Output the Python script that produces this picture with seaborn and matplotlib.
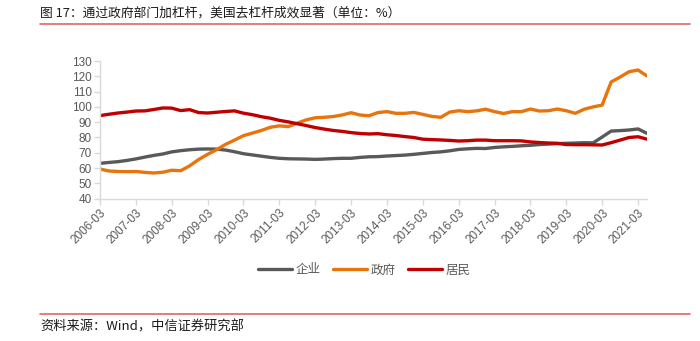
import numpy as np
import pandas as pd
import matplotlib
matplotlib.use("Agg")
import matplotlib.pyplot as plt
import seaborn as sns

# ---- data (quarterly, 2006-03 .. 2021-06) ----
quarters = [f"{y}-{m:02d}" for y in range(2006, 2022) for m in (3, 6, 9, 12)][:62]
tick_labels = [f"{y}-03" for y in range(2006, 2022)]

corp = [63.1, 63.7, 64.2, 65.0, 66.0, 67.2, 68.3, 69.2, 70.6, 71.4,
        72.0, 72.4, 72.5, 72.4, 71.8, 70.7, 69.4, 68.6, 67.8, 67.0,
        66.4, 66.1, 66.0, 65.9, 65.7, 65.9, 66.2, 66.4, 66.4, 67.0,
        67.4, 67.5, 67.9, 68.2, 68.5, 69.0, 69.6, 70.2, 70.6, 71.3,
        72.2, 72.6, 72.9, 72.8, 73.5, 73.9, 74.2, 74.6, 74.9, 75.4,
        75.7, 76.0, 76.2, 76.4, 76.6, 76.5, 80.3, 84.2, 84.5, 84.9,
        85.6, 82.7]
gov = [59.4, 58.1, 57.8, 57.7, 57.8, 57.2, 56.8, 57.3, 58.6, 58.3,
       61.5, 65.6, 69.0, 72.0, 75.5, 78.3, 81.2, 82.9, 84.6, 86.7,
       87.6, 87.1, 89.4, 91.5, 92.9, 93.2, 93.7, 94.7, 96.2, 94.7,
       94.2, 96.3, 96.9, 95.8, 95.8, 96.4, 95.1, 93.8, 93.2, 96.6,
       97.5, 96.9, 97.4, 98.5, 96.9, 95.7, 96.9, 96.9, 98.6, 97.3,
       97.5, 98.6, 97.5, 95.8, 98.5, 100.0, 101.2, 116.3, 119.5, 123.0,
       124.1, 120.2]
house = [94.3, 95.2, 96.0, 96.6, 97.3, 97.4, 98.3, 99.3, 99.2, 97.6,
         98.2, 96.3, 96.0, 96.5, 97.0, 97.4, 95.9, 94.9, 93.6, 92.6,
         91.2, 90.2, 89.0, 87.8, 86.5, 85.5, 84.6, 84.0, 83.2, 82.6,
         82.3, 82.5, 81.8, 81.3, 80.6, 80.0, 78.9, 78.6, 78.4, 78.1,
         77.7, 77.9, 78.3, 78.3, 77.9, 77.9, 77.9, 77.8, 77.1, 76.7,
         76.4, 76.2, 75.4, 75.3, 75.3, 75.2, 75.1, 76.6, 78.3, 80.0,
         80.5, 78.9]
series_names = ["企业", "政府", "居民"]
colors = ["#595959", "#E8740E", "#C00000"]

# ---- build long table ----
idx = np.arange(len(quarters))
df = pd.DataFrame({
    "i": np.concatenate([idx, idx, idx]),
    "value": corp + gov + house,
    "series": [series_names[0]] * len(corp) + [series_names[1]] * len(gov) + [series_names[2]] * len(house),
})

sns.set_style("white")
plt.rcParams["font.family"] = ["Liberation Sans", "Noto Sans CJK SC", "DejaVu Sans"]

fig = plt.figure(figsize=(7.0, 3.41), dpi=100)
ax = fig.add_axes([100 / 700, 1 - 198.7 / 341, 547 / 700, (198.7 - 61) / 341])

sns.lineplot(data=df, x="i", y="value", hue="series", hue_order=series_names,
             palette=colors, linewidth=2.4, ax=ax, legend=False)

ax.set_xlim(0, len(quarters) - 1)
ax.set_ylim(40, 130)
ax.set_yticks(range(40, 131, 10))
ax.set_xticks(range(0, len(quarters), 4))
ax.set_xticklabels(tick_labels, rotation=45, ha="right", rotation_mode="anchor",
                   fontsize=8.5, color="#595959")
for t in ax.get_yticklabels():
    t.set_fontsize(8.5)
    t.set_color("#595959")
ax.set_xlabel("")
ax.set_ylabel("")

for s in ["top", "right"]:
    ax.spines[s].set_visible(False)
for s in ["left", "bottom"]:
    ax.spines[s].set_color("#D9D9D9")
    ax.spines[s].set_linewidth(1.0)
ax.tick_params(axis="both", which="both", length=4, width=1, color="#D9D9D9",
               direction="out", pad=2)
ax.tick_params(axis="x", bottom=True)
ax.tick_params(axis="y", left=True)

# legend
from matplotlib.lines import Line2D
handles = [Line2D([0], [0], color=c, lw=2.4) for c in colors]
fig.legend(handles, series_names, loc="center", bbox_to_anchor=(0.52, 1 - 270 / 341),
           ncol=3, frameon=False, handlelength=2.7, handletextpad=0.3, columnspacing=1.0,
           prop={"family": ["Noto Sans CJK SC"], "size": 9}, labelcolor="#595959")

# title & source
fig.text(40 / 700, 1 - 13 / 341, "图 17：通过政府部门加杠杆，美国去杠杆成效显著（单位：%）",
         fontsize=9.2, family=["Noto Sans CJK SC", "DejaVu Sans"], color="#1a1a1a",
         ha="left", va="center")
fig.add_artist(Line2D([40 / 700, 690 / 700], [1 - 23.5 / 341] * 2, color="#E06666", lw=1.2,
                      transform=fig.transFigure))
fig.add_artist(Line2D([40 / 700, 690 / 700], [1 - 313.5 / 341] * 2, color="#E06666", lw=1.2,
                      transform=fig.transFigure))
fig.text(40 / 700, 1 - 327 / 341, "资料来源：Wind，中信证券研究部",
         fontsize=9.5, family=["Noto Sans CJK SC", "DejaVu Sans"], color="#1a1a1a",
         ha="left", va="center")

fig.savefig("out.png", dpi=100)
